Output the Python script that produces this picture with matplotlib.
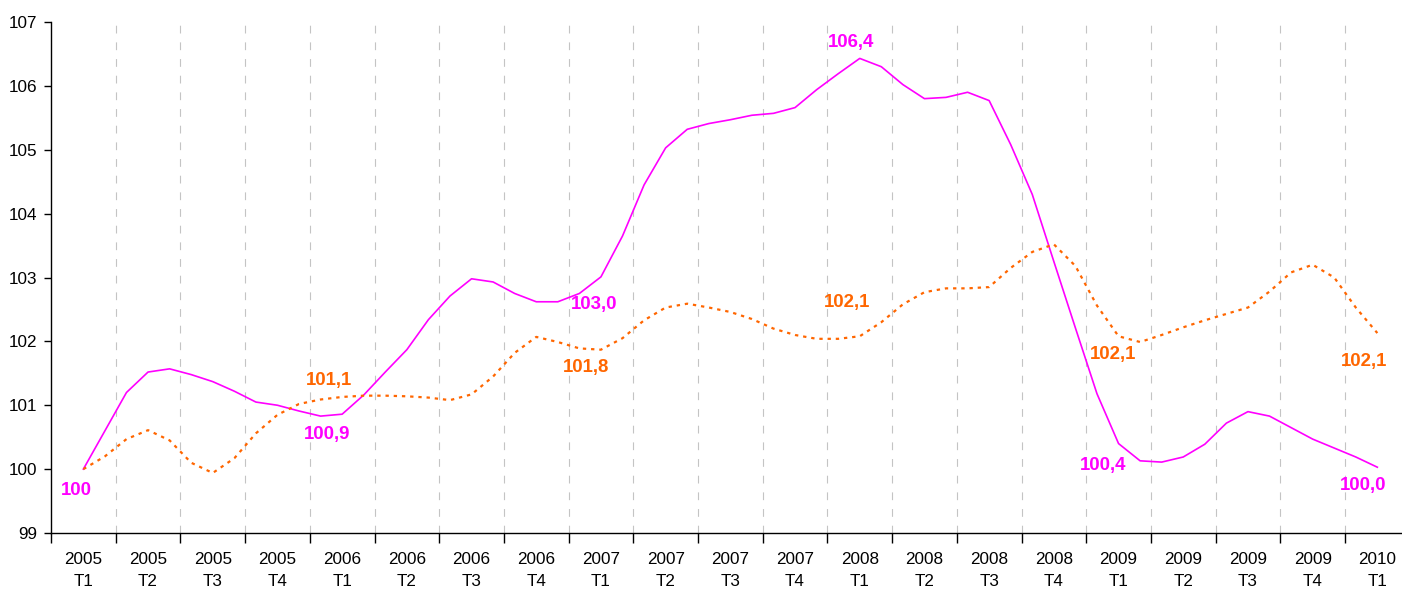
import numpy as np
import matplotlib.pyplot as plt

# quarters on the x axis
quarters = ['2005\nT1', '2005\nT2', '2005\nT3', '2005\nT4',
            '2006\nT1', '2006\nT2', '2006\nT3', '2006\nT4',
            '2007\nT1', '2007\nT2', '2007\nT3', '2007\nT4',
            '2008\nT1', '2008\nT2', '2008\nT3', '2008\nT4',
            '2009\nT1', '2009\nT2', '2009\nT3', '2009\nT4',
            '2010\nT1']

# monthly readings (3 per quarter), index 100 at 2005 T1
magenta = [100.00, 100.60, 101.20, 101.52, 101.57, 101.48, 101.37, 101.22, 101.05, 101.00,
           100.91, 100.83, 100.86, 101.16, 101.52, 101.87, 102.34, 102.71, 102.98, 102.93,
           102.75, 102.62, 102.62, 102.75, 103.01, 103.65, 104.45, 105.03, 105.32, 105.41,
           105.47, 105.54, 105.57, 105.66, 105.94, 106.19, 106.43, 106.30, 106.02, 105.80,
           105.82, 105.90, 105.77, 105.08, 104.30, 103.25, 102.21, 101.18, 100.40, 100.13,
           100.11, 100.19, 100.39, 100.72, 100.90, 100.83, 100.65, 100.47, 100.33, 100.19,
           100.03]

orange = [100.00, 100.20, 100.47, 100.61, 100.45, 100.10, 99.94, 100.17, 100.56, 100.85,
          101.02, 101.09, 101.13, 101.15, 101.15, 101.14, 101.12, 101.08, 101.17, 101.45,
          101.82, 102.07, 101.99, 101.89, 101.87, 102.05, 102.33, 102.53, 102.59, 102.53,
          102.46, 102.35, 102.20, 102.10, 102.04, 102.04, 102.08, 102.30, 102.58, 102.77,
          102.83, 102.83, 102.85, 103.15, 103.40, 103.52, 103.18, 102.56, 102.08, 101.99,
          102.10, 102.22, 102.33, 102.43, 102.53, 102.78, 103.08, 103.20, 103.00, 102.53,
          102.13]

# value labels: (series, month index, text)
labels = [('m', 0, '100'), ('m', 12, '100,9'), ('o', 12, '101,1'),
          ('m', 24, '103,0'), ('o', 24, '101,8'), ('m', 36, '106,4'),
          ('o', 36, '102,1'), ('o', 48, '102,1'), ('m', 48, '100,4'),
          ('o', 60, '102,1'), ('m', 60, '100,0')]
label_offsets = [(-7, -21), (-15, -20), (-13, 16), (-7, -28), (-15, -18), (-9, 16),
                 (-13, 34), (-5, -18), (-15, -22), (-13, -28), (-14, -18)]

plt.rcParams['font.family'] = ['Liberation Sans', 'DejaVu Sans']

MAG = '#ff00ff'
ORA = '#ff6600'

fig = plt.figure(figsize=(14.02, 5.90), dpi=100)
ax = fig.add_axes([51 / 1402, 1 - 533 / 590, 1 - 51 / 1402, (533 - 22) / 590])

x = np.arange(len(magenta)) / 3.0
ax.plot(x, magenta, color=MAG, lw=1.2, solid_joinstyle='round', zorder=3)
ax.plot(x, orange, color=ORA, lw=1.6, linestyle=(0, (1.5, 2.2)), zorder=3)

for (s, i, txt), (dx, dy) in zip(labels, label_offsets):
    ys = magenta if s == 'm' else orange
    ax.annotate(txt, xy=(x[i], ys[i]), xytext=(dx, dy), textcoords='offset pixels',
                ha='center', va='center', fontsize=13.4, fontweight='bold',
                color=MAG if s == 'm' else ORA, zorder=4)

# category boundaries: dashed grid lines
bounds = np.arange(len(quarters) + 1) - 0.5
for b in bounds[1:]:
    ax.axvline(b, color='#c4c4c4', lw=0.8, linestyle=(0, (7, 8)), zorder=1)

ax.set_yticks(range(99, 108))
ax.set_xticks(bounds)
ax.set_xticklabels([])
ax.set_xticks(np.arange(len(quarters)), minor=True)
ax.set_xticklabels(quarters, minor=True, linespacing=1.55)
# limits after the ticks, so the ticks don't widen the view
ax.set_xlim(-0.5, -0.5 + (1402 - 51) / 64.7)
ax.set_ylim(99, 107)

ax.tick_params(axis='x', which='major', length=7, width=1, direction='out')
ax.tick_params(axis='x', which='minor', length=0, pad=14, labelsize=12.3)
ax.tick_params(axis='y', length=5, width=1, pad=5, labelsize=12.3)

for side in ['top', 'right']:
    ax.spines[side].set_visible(False)
for side in ['left', 'bottom']:
    ax.spines[side].set_linewidth(1)

fig.savefig('out.png', dpi=100)
